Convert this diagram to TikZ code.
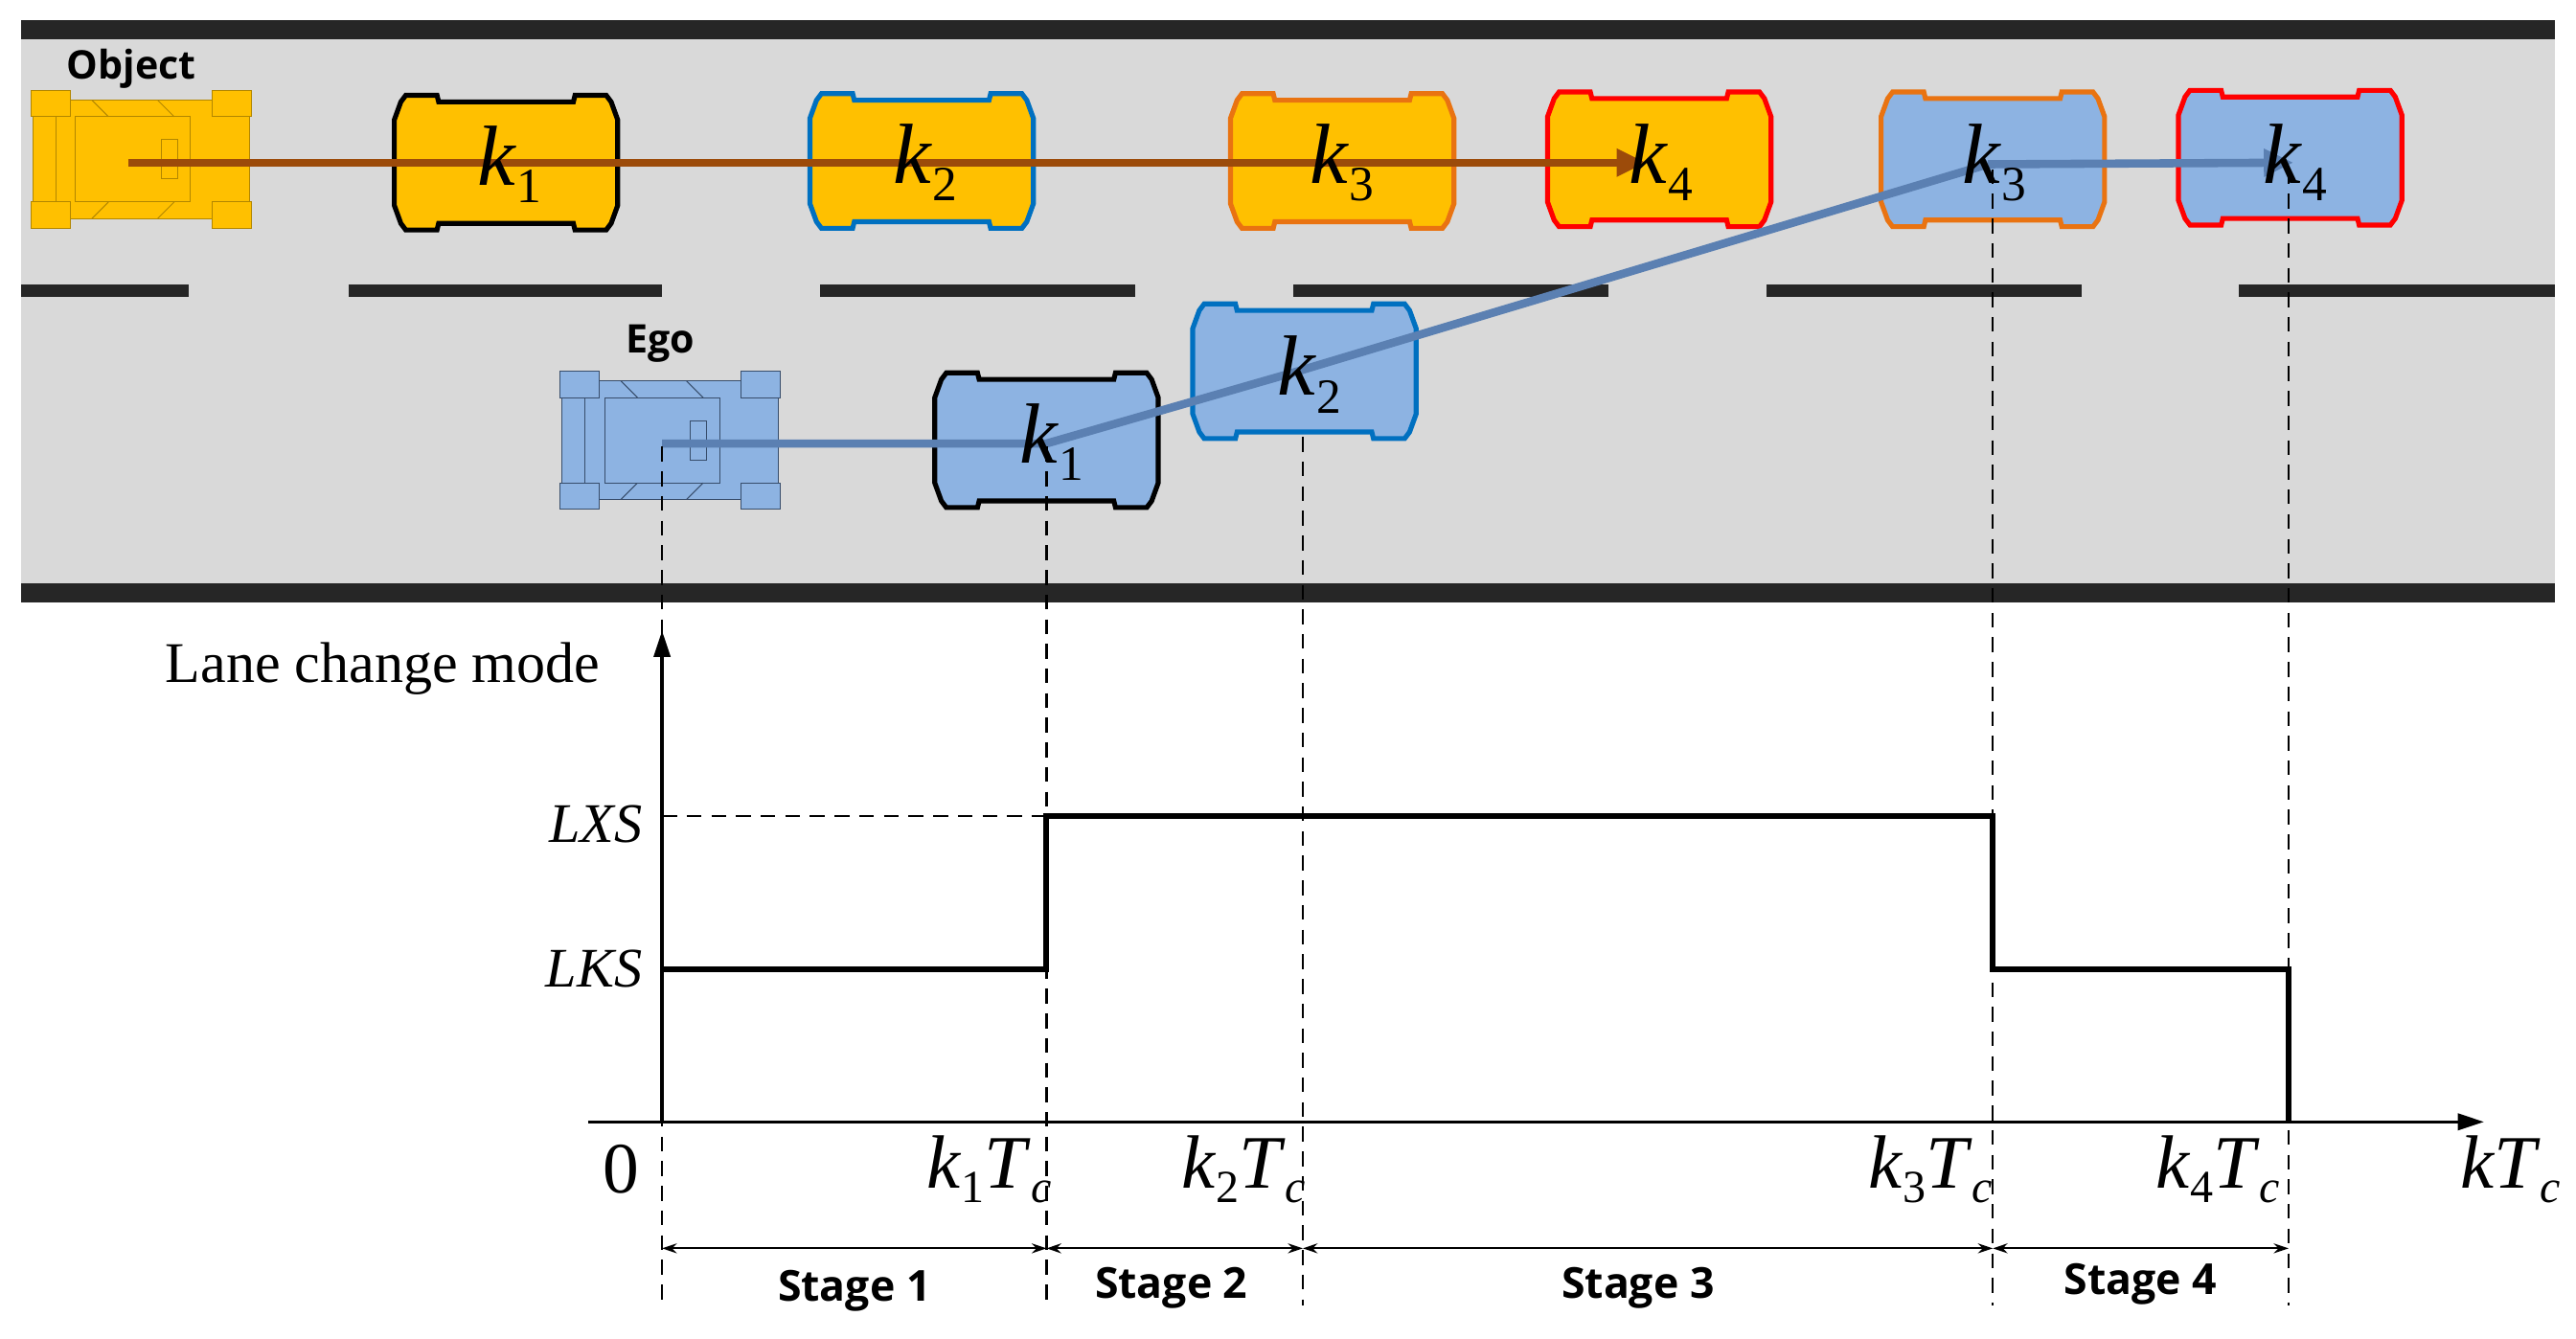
\documentclass[tikz,border=0pt]{standalone}
\usepackage{fontspec}
\setmainfont{Liberation Serif}
\newfontfamily\sansb{Open Sans}
\usetikzlibrary{arrows.meta}
\definecolor{roadgray}{HTML}{D9D9D9}
\definecolor{bar}{HTML}{262626}
\definecolor{cyel}{HTML}{FFC000}
\definecolor{cblue}{HTML}{8DB3E2}
\definecolor{bblue}{HTML}{0070C0}
\definecolor{bor}{HTML}{E97311}
\definecolor{bred}{HTML}{FF0000}
\definecolor{brown}{HTML}{9C4B0A}
\definecolor{lblue}{HTML}{5B80B2}
\newcommand{\kl}[1]{\textit{k}\raisebox{-0.45ex}{\fontsize{30}{30}\selectfont #1}}
\newcommand{\ktl}[1]{\textit{k}\raisebox{-0.4ex}{\fontsize{28}{28}\selectfont #1}\textit{T}\raisebox{-0.4ex}{\fontsize{28}{28}\selectfont\textit{c}}}
\tikzset{
  carbox/.pic={\path[pic actions] (-68,-26) -- (-68,26) -- (-64,37) -- (-61,41) -- (-42,41) -- (-41,37) -- (41,37) -- (42,41) -- (61,41) -- (64,37) -- (68,26) -- (68,-26) -- (64,-37) -- (61,-41) -- (42,-41) -- (41,-37) -- (-41,-37) -- (-42,-41) -- (-61,-41) -- (-64,-37) -- cycle;},
  car/.pic={
    \path[pic actions] (-66,-36) rectangle (66,36);
    \foreach \sx in {-1,1}{\foreach \sy in {-1,1}{
      \path[pic actions] ({\sx*55-12},{\sy*34-8}) rectangle ({\sx*55+12},{\sy*34+8});}}
    \draw[pic actions,fill=none] (-52,-26) -- (-52,26);
    \draw[pic actions,fill=none] (-40,-26) rectangle (30,26);
    \draw[pic actions,fill=none] (-30,-36) -- (-20,-26) (10,-36) -- (20,-26) (-30,36) -- (-20,26) (10,36) -- (20,26);
    \draw[pic actions,fill=none] (12,-12) rectangle (22,12);
  },
  kbox/.style={line width=3pt},
  klab/.style={font=\fontsize{52}{52}\selectfont, inner sep=0pt},
  tick/.style={font=\fontsize{46}{46}\selectfont, inner sep=0pt},
  ylab/.style={font=\fontsize{34}{34}\selectfont\itshape, anchor=east, inner sep=0pt},
  stage/.style={font=\sansb\bfseries\fontsize{26}{26}\selectfont, inner sep=0pt},
  vdash/.style={dash pattern=on 9pt off 6pt, line width=1.3pt},
  sarrow/.style={{Stealth[length=9pt,width=6pt]}-{Stealth[length=9pt,width=6pt]}, line width=1.2pt}
}
\begin{document}
\begin{tikzpicture}[x=1pt,y=-1pt]
\useasboundingbox (0,0) rectangle (1568,815);
% road
\fill[roadgray] (13,24) rectangle (1555,355);
\fill[bar] (13,12) rectangle (1555,24);
\fill[bar] (13,355) rectangle (1555,367);
\foreach \a/\b in {13/115,212/403,499/691,787/979,1075/1267,1363/1555}
  \fill[bar] (\a,173) rectangle (\b,181);
% object car
\pic[fill=cyel, draw=cyel!70!black, line width=0.6pt] at (86,97) {car};
\node[font=\sansb\bfseries\fontsize{24}{24}\selectfont] (objl) at (80,42) {Object};
% object boxes
\pic[fill=cyel, draw=black, kbox] at (308,99) {carbox};
\pic[fill=cyel, draw=bblue, kbox] at (561,98) {carbox};
\pic[fill=cyel, draw=bor, kbox] at (817,98) {carbox};
\pic[fill=cyel, draw=bred, kbox] at (1010,97) {carbox};
% ego car
\pic[fill=cblue, draw=lblue!60!black, line width=0.6pt] at (408,268) {car};
\node[font=\sansb\bfseries\fontsize{24}{24}\selectfont] (egol) at (402,209) {Ego};
% ego boxes
\pic[fill=cblue, draw=black, kbox] at (637,268) {carbox};
\pic[fill=cblue, draw=bblue, kbox] at (794,226) {carbox};
\pic[fill=cblue, draw=bor, kbox] at (1213,97) {carbox};
\pic[fill=cblue, draw=bred, kbox] at (1394,96) {carbox};
% coordinates
\coordinate (o0) at (78,99);
\coordinate (o4) at (1002,99);
\coordinate (e0) at (403,270);
\coordinate (e1) at (637,270);
\coordinate (e2) at (790,226);
\coordinate (e3) at (1210,100);
\coordinate (e4) at (1396,99);
% trajectories
\draw[brown, line width=5pt, -{Triangle[length=18pt,width=16pt]}] (o0) -- (o4);
\draw[lblue, line width=5pt] (e0) -- (e1) -- (e2) -- (e3);
\draw[lblue, line width=5pt, -{Triangle[length=18pt,width=16pt]}] (e3) -- (e4);
% labels
\node[klab] (ok1) at (310,100) {\kl{1}};
\node[klab] (ok2) at (563,99) {\kl{2}};
\node[klab] (ok3) at (817,99) {\kl{3}};
\node[klab] (ok4) at (1011,99) {\kl{4}};
\node[klab] (ek1) at (640,269) {\kl{1}};
\node[klab] (ek2) at (797,228) {\kl{2}};
\node[klab] (ek3) at (1214,99) {\kl{3}};
\node[klab] (ek4) at (1397,99) {\kl{4}};
% axes
\coordinate (orig) at (403,683);
\draw[line width=2pt, -{Triangle[length=16pt,width=10pt]}] (358,683) -- (1512,683);
\draw[line width=2pt, -{Triangle[length=16pt,width=10pt]}] (403,683) -- (403,384);
\node[font=\fontsize{35}{35}\selectfont, inner sep=0pt] (ylab) at (233,407) {Lane change mode};
\node[ylab] (lxs) at (391,502) {LXS};
\node[ylab] (lks) at (391,590) {LKS};
\draw[vdash] (403,497) -- (637,497);
% step
\draw[line width=3.5pt] (403,590) -- (637,590) -- (637,497) -- (1213,497) -- (1213,590) -- (1393,590) -- (1393,683);
% dashed verticals
\foreach \x/\t in {403/272,637/272,793/266,1213/103,1393/103}
  \draw[vdash] (\x,\t) -- (\x,795);
% tick labels
\node[font=\fontsize{44}{44}\selectfont, inner sep=0pt] (zero) at (378,712) {0};
\node[tick] (t1) at (602,712) {\ktl{1}};
\node[tick] (t2) at (757,712) {\ktl{2}};
\node[tick] (t3) at (1175,712) {\ktl{3}};
\node[tick] (t4) at (1350,712) {\ktl{4}};
\node[tick] (tk) at (1528,712) {\textit{kT}\raisebox{-0.4ex}{\fontsize{28}{28}\selectfont\textit{c}}};
% stages
\coordinate (s0) at (403,760);
\coordinate (s1) at (637,760);
\coordinate (s2) at (793,760);
\coordinate (s3) at (1213,760);
\coordinate (s4) at (1393,760);
\draw[sarrow] (s0) -- (s1);
\draw[sarrow] (s1) -- (s2);
\draw[sarrow] (s2) -- (s3);
\draw[sarrow] (s3) -- (s4);
\node[stage] (st1) at (520,786) {Stage 1};
\node[stage] (st2) at (713,784) {Stage 2};
\node[stage] (st3) at (997,784) {Stage 3};
\node[stage] (st4) at (1303,782) {Stage 4};
\end{tikzpicture}
\end{document}
